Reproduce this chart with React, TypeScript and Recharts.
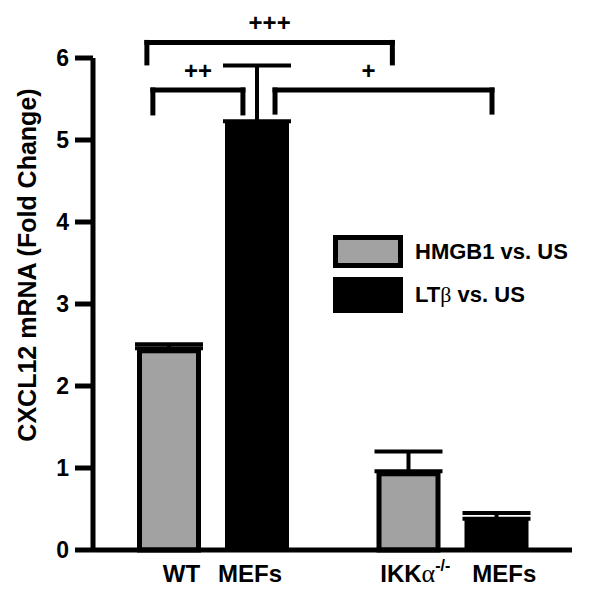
import React from "react";
import {
  BarChart,
  Bar,
  XAxis,
  YAxis,
  ErrorBar,
  Legend,
  ReferenceLine,
} from "recharts";

// values
const groups = ["WT MEFs", "IKKα-/- MEFs"];
const hmgb1 = [2.46, 0.96];
const ltb = [5.23, 0.38];
const hmgb1Err = [0.05, 0.24];
const ltbErr = [0.68, 0.07];
const yTicks = [0, 1, 2, 3, 4, 5, 6];

// significance brackets, x as a fraction of the plot width, y in fold change
const brackets = [
  { label: "+++", x1: 0.1125, x2: 0.625, top: 6.19, foot: 5.94, shift: 0 },
  { label: "++", x1: 0.125, x2: 0.313, top: 5.61, foot: 5.33, shift: 0 },
  { label: "+", x1: 0.38, x2: 0.833, top: 5.61, foot: 5.34, shift: -15 },
];

const data = groups.map((g, i) => ({
  group: g,
  hmgb1: hmgb1[i],
  ltb: ltb[i],
  hmgb1Err: [0, hmgb1Err[i]],
  ltbErr: [0, ltbErr[i]],
}));

const FONT = '"Liberation Sans", Arial, sans-serif';
const GRAY = "#a2a2a2";

function GrayBar(props: any) {
  const { x, y, width, height } = props;
  if (height <= 0) return null;
  return (
    <rect
      x={x + 2.5}
      y={y + 2.5}
      width={width - 5}
      height={height - 2.5}
      fill={GRAY}
      stroke="#000"
      strokeWidth={5}
    />
  );
}

function XTick({ x, y, payload }: any) {
  if (payload.value === "WT MEFs") {
    return (
      <text x={x - 50} y={y + 32} fontFamily={FONT} fontWeight="bold" fontSize={24} fill="#000">
        <tspan>WT</tspan>
        <tspan dx={18}>MEFs</tspan>
      </text>
    );
  }
  return (
    <text x={x - 72} y={y + 32} fontFamily={FONT} fontWeight="bold" fontSize={24} fill="#000">
      <tspan>IKK</tspan>
      <tspan fontFamily='"Liberation Serif", serif' fontWeight="normal" fontSize={26}>α</tspan>
      <tspan fontSize={16} dy={-11}>-/-</tspan>
      <tspan dy={11} dx={22}>MEFs</tspan>
    </text>
  );
}

function YLabel({ viewBox }: any) {
  const cx = viewBox.x + 27;
  const cy = viewBox.y + viewBox.height / 2 - 39;
  return (
    <text
      x={cx}
      y={cy}
      transform={`rotate(-90, ${cx}, ${cy})`}
      textAnchor="middle"
      dominantBaseline="central"
      fontFamily={FONT}
      fontWeight="bold"
      fontSize={25}
      fill="#000"
    >
      CXCL12 mRNA (Fold Change)
    </text>
  );
}

function LegendBox({ payload }: any) {
  return (
    <div style={{ fontFamily: FONT, fontWeight: "bold", fontSize: 22, color: "#000" }}>
      {(payload || []).map((entry: any) => {
        const isGray = entry.dataKey === "hmgb1";
        return (
          <div
            key={entry.dataKey}
            style={{ display: "flex", alignItems: "center", height: isGray ? 33 : 36, marginBottom: isGray ? 9 : 0 }}
          >
            <span
              style={{
                width: 70,
                height: isGray ? 33 : 36,
                boxSizing: "border-box",
                background: isGray ? GRAY : "#000",
                border: "5px solid #000",
                display: "inline-block",
              }}
            />
            <span style={{ marginLeft: 12, whiteSpace: "nowrap" }}>
              {isGray ? (
                "HMGB1 vs. US"
              ) : (
                <>
                  LT<span style={{ fontFamily: '"Liberation Serif", serif', fontWeight: "normal" }}>β</span> vs. US
                </>
              )}
            </span>
          </div>
        );
      })}
    </div>
  );
}

export default function App() {
  return (
    <div style={{ position: "absolute", left: 0, top: 0, width: 608, height: 600, background: "#fff" }}>
      <BarChart
        width={608}
        height={600}
        data={data}
        margin={{ top: 58, right: 36, bottom: 0, left: 0 }}
        barSize={64}
        barGap={24}
        barCategoryGap={0}
      >
        <XAxis
          dataKey="group"
          height={50}
          tickLine={false}
          tickSize={0}
          tickMargin={0}
          axisLine={{ stroke: "#000", strokeWidth: 5 }}
          tick={<XTick />}
          interval={0}
        />
        <XAxis xAxisId="pos" type="number" domain={[0, 1]} hide allowDataOverflow />
        <YAxis
          width={93}
          domain={[0, 6]}
          ticks={yTicks}
          interval={0}
          tickSize={18}
          tickMargin={6}
          axisLine={{ stroke: "#000", strokeWidth: 5 }}
          tickLine={{ stroke: "#000", strokeWidth: 5 }}
          tick={{ fill: "#000", fontSize: 23, fontWeight: "bold", fontFamily: FONT }}
          label={<YLabel />}
        />
        <Legend
          layout="vertical"
          align="center"
          verticalAlign="middle"
          content={<LegendBox />}
          wrapperStyle={{ left: 333, top: 235, width: 260 }}
        />
        <Bar dataKey="hmgb1" name="HMGB1 vs. US" fill={GRAY} shape={<GrayBar />} isAnimationActive={false}>
          <ErrorBar dataKey="hmgb1Err" direction="y" width={34} strokeWidth={4} stroke="#000" isAnimationActive={false} />
        </Bar>
        <Bar dataKey="ltb" name="LTβ vs. US" fill="#000" isAnimationActive={false}>
          <ErrorBar dataKey="ltbErr" direction="y" width={34} strokeWidth={4} stroke="#000" isAnimationActive={false} />
        </Bar>
        {brackets.map((b) => [
          <ReferenceLine
            key={b.label + "-h"}
            xAxisId="pos"
            ifOverflow="visible"
            segment={[
              { x: b.x1, y: b.top },
              { x: b.x2, y: b.top },
            ]}
            stroke="#000"
            strokeWidth={5}
            strokeLinecap="square"
            label={{
              value: b.label,
              position: "top",
              offset: 11,
              dx: b.shift,
              fill: "#000",
              fontSize: 24,
              fontWeight: "bold",
              fontFamily: FONT,
            }}
          />,
          <ReferenceLine
            key={b.label + "-l"}
            xAxisId="pos"
            ifOverflow="visible"
            segment={[
              { x: b.x1, y: b.top },
              { x: b.x1, y: b.foot },
            ]}
            stroke="#000"
            strokeWidth={5}
            strokeLinecap="square"
          />,
          <ReferenceLine
            key={b.label + "-r"}
            xAxisId="pos"
            ifOverflow="visible"
            segment={[
              { x: b.x2, y: b.top },
              { x: b.x2, y: b.foot },
            ]}
            stroke="#000"
            strokeWidth={5}
            strokeLinecap="square"
          />,
        ])}
      </BarChart>
    </div>
  );
}
